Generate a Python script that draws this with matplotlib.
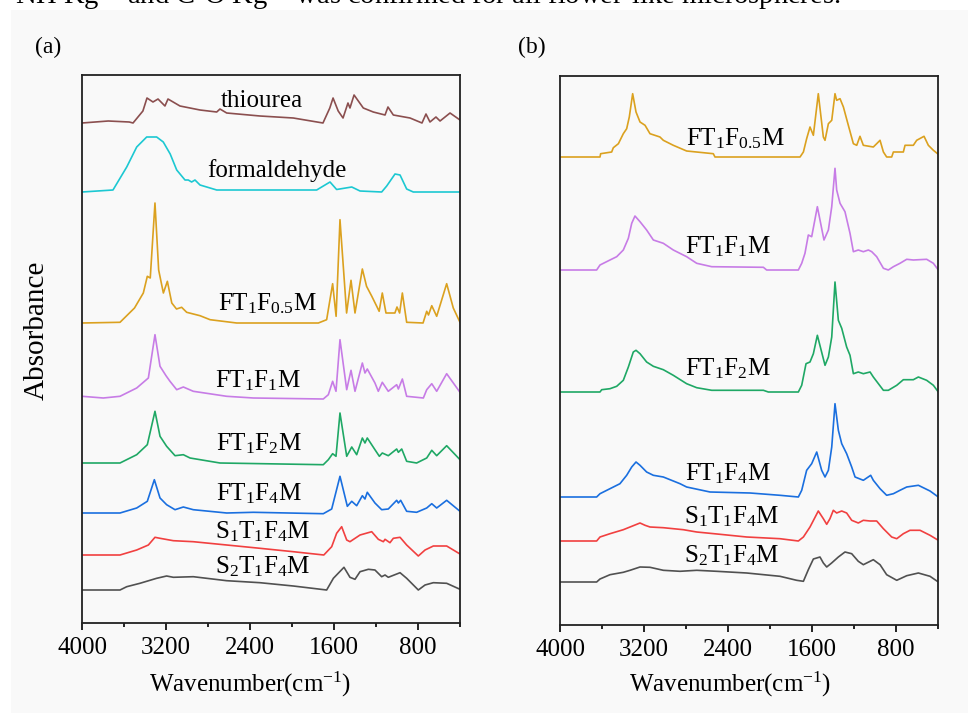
import matplotlib
matplotlib.use("Agg")
import matplotlib.pyplot as plt
from matplotlib.patches import Rectangle
import numpy as np

plt.rcParams['font.family'] = 'Liberation Serif'
plt.rcParams['mathtext.fontset'] = 'custom'
plt.rcParams['mathtext.rm'] = 'Liberation Serif'
plt.rcParams['mathtext.it'] = 'Liberation Serif:italic'

# ---- panel (a) spectra: wavenumber (cm-1) and absorbance above each baseline ----
a_thiourea_wn = [4000, 3750, 3550, 3514, 3420, 3381, 3324, 3276, 3210, 3181, 3067, 2876, 2717, 2686, 2622, 2305, 1988, 1705, 1640, 1609,
                 1560, 1514, 1467, 1448, 1409, 1321, 1226, 1114, 1086, 1035, 876, 762, 724, 686, 629, 590, 495, 400]
a_thiourea_ab = [0, 2, 1, 0, 12, 25, 21, 24, 17, 24, 17, 13, 11, 14, 10, 7, 5, 0, 15, 25,
                 12, 5, 20, 15, 28, 15, 11, 8, 16, 8, 5, 0, 9, 1, 6, 2, 10, 3]

a_formal_wn = [4000, 3705, 3574, 3479, 3384, 3289, 3226, 3160, 3098, 3019, 2988, 2956, 2924, 2876, 2717, 1765, 1638, 1575, 1431, 1352,
               1146, 1098, 1019, 971, 908, 845, 400]
a_formal_ab = [0, 2, 25, 45, 55, 55, 50, 38, 22, 12, 12, 10, 12, 7, 2, 2, 10, 2.5, 5, 1,
               0, 6, 18, 17, 3, 0, 0]

a_f05_wn = [4000, 3638, 3580, 3500, 3416, 3378, 3350, 3305, 3270, 3225, 3187, 3145, 3100, 3051, 3003, 2876, 2780, 2527, 1749, 1670,
            1613, 1580, 1543, 1480, 1438, 1400, 1330, 1290, 1240, 1193, 1170, 1140, 1105, 1020, 1000, 975, 949, 908, 752, 717,
            700, 669, 622, 527, 464, 400]
a_f05_ab = [0, 0.7, 6.7, 15, 30, 46.7, 45, 120, 53, 30, 41.7, 20, 14, 15.7, 10.7, 7.3, 3.3, 0, 0, 3.3,
            39.3, 6.7, 103.3, 10, 42.7, 10, 54, 36.7, 26.7, 16.7, 11.7, 30, 10, 10, 16, 10, 30, 0.7, 0, 11.7,
            8, 17.3, 6.7, 39.3, 15, 0.7]

a_f1_wn = [4000, 3797, 3638, 3479, 3368, 3305, 3257, 3200, 3162, 3098, 3035, 2940, 2622, 2368, 1702, 1654, 1613, 1581, 1543, 1479,
           1438, 1400, 1330, 1305, 1283, 1210, 1178, 1140, 1083, 1003, 987, 949, 908, 749, 717, 669, 622, 527, 400]
a_f1_ab = [1.7, 0, 1.7, 10, 20, 63.3, 31.7, 22.3, 16.7, 8.3, 11, 6.7, 1.7, 0, -1, 3.3, 16.7, 6.7, 58.3, 8.3,
           27.7, 6.7, 35, 25, 29, 15, 6.7, 15.7, 6.7, 13.3, 9, 19, 1.7, 0, 8.3, 14.3, 6.7, 24.3, 5.7]

a_f2_wn = [4000, 3638, 3479, 3378, 3305, 3257, 3194, 3114, 3035, 2971, 2686, 1702, 1654, 1613, 1581, 1543, 1479, 1431, 1384, 1330,
           1305, 1283, 1210, 1168, 1140, 1083, 1003, 987, 955, 908, 813, 717, 669, 622, 527, 400]
a_f2_ab = [0, 0, 8.3, 18.3, 51.7, 26.7, 16.7, 7.3, 8.3, 5, 0, -1.7, 3.3, 9.3, 6.7, 50, 6.7, 16, 8.3, 25,
           20, 25, 13.3, 6.7, 10, 7.3, 14, 10.7, 14, 1.7, 0, 5, 12.7, 7.3, 17.3, 3.3]

a_f4_wn = [4000, 3638, 3479, 3378, 3311, 3257, 3194, 3114, 3035, 2940, 2622, 2368, 1702, 1622, 1543, 1473, 1431, 1384, 1330, 1305,
           1283, 1210, 1146, 1083, 1003, 987, 965, 908, 813, 717, 669, 622, 527, 400]
a_f4_ab = [0, 0, 5, 11.7, 33.3, 15, 8.3, 3.3, 6, 3.3, 0, 0.7, -0.7, 4, 36.7, 6.7, 11.7, 7.3, 17.3, 14,
           20.7, 10, 3.3, 4, 12.7, 10, 12.7, 1.7, 0.7, 5, 9.3, 5, 12.7, 1.7]

a_s1_wn = [4000, 3638, 3479, 3368, 3305, 3257, 3130, 2940, 2622, 2305, 1988, 1697, 1622, 1575, 1527, 1479, 1448, 1352, 1241, 1178,
           1130, 1114, 1067, 1035, 971, 908, 797, 733, 654, 527, 400]
a_s1_ab = [0, 0, 5, 10, 17.7, 16.7, 14.3, 13.3, 10, 6.7, 3.3, 0, 8.3, 21.7, 28.3, 15, 13.3, 20, 23.3, 15.7,
           13.3, 15.7, 12.3, 16.7, 17.7, 10, -1, 5, 9, 9, 1]

a_s2_wn = [4000, 3638, 3574, 3448, 3289, 3194, 3130, 2940, 2813, 2622, 2305, 1988, 1670, 1606, 1505, 1448, 1400, 1352, 1273, 1210,
           1146, 1114, 1083, 971, 908, 797, 733, 654, 527, 400]
a_s2_ab = [0, 0, 3.3, 6.7, 11.7, 14, 12.7, 13.3, 11.7, 9.3, 7.3, 4, 0, 11.7, 22.7, 12.7, 10.7, 18.3, 20.7, 20,
           13.3, 15, 12.7, 17.3, 11.7, 0, 5, 7.3, 6.7, 0.7]

# ---- panel (b) spectra ----
b_f05_wn = [4000, 3619, 3613, 3508, 3492, 3444, 3397, 3365, 3340, 3308, 3276, 3238, 3190, 3143, 3048, 3016, 2921, 2794, 2540, 2524,
            1714, 1682, 1651, 1619, 1587, 1540, 1492, 1476, 1444, 1412, 1381, 1365, 1333, 1301, 1254, 1206, 1174, 1143, 1111, 1016,
            984, 952, 920, 889, 841, 825, 730, 714, 635, 603, 533, 492, 444, 397]
b_f05_ab = [0, 0, 3.3, 5, 9.3, 13.3, 23.3, 28.3, 40, 63.3, 45, 35, 31.7, 23.3, 20, 16.7, 11.7, 6, 3.3, 0,
            0, 5, 18.3, 30, 21.7, 63.3, 20, 16.7, 33.3, 36.7, 63.3, 56.7, 58.3, 50, 31.7, 13.3, 11.7, 20.7, 11.7, 10,
            13.3, 16.7, 5, 0, 0, 5, 5, 11.7, 11.7, 16.7, 20.7, 11.7, 6.7, 2.7]

b_f1_wn = [4000, 3651, 3619, 3524, 3460, 3397, 3349, 3317, 3286, 3238, 3175, 3111, 3016, 2921, 2794, 2698, 2555, 2063, 2032, 1730,
           1698, 1667, 1635, 1603, 1549, 1486, 1444, 1412, 1381, 1365, 1333, 1286, 1238, 1206, 1159, 1111, 1063, 1031, 984, 920,
           873, 825, 762, 698, 635, 508, 444, 397]
b_f1_ab = [0, 0, 5, 10, 13.3, 20, 31.7, 46.7, 54, 48.3, 40, 30, 26.7, 20, 13.3, 6.7, 3.3, 2.7, 0, 0,
           6.7, 16.7, 35, 33.3, 63.3, 30, 40, 63.3, 101.7, 80, 66.7, 58.3, 36.7, 18.3, 20, 18.3, 20, 18.3, 13.3, 1.7,
           0, 3.3, 6.7, 10.7, 10, 10.7, 6.7, 0]

b_f2_wn = [4000, 3619, 3603, 3524, 3460, 3397, 3349, 3302, 3276, 3238, 3175, 3111, 3016, 2921, 2794, 2698, 2555, 2063, 2016, 1730,
           1698, 1657, 1619, 1587, 1549, 1476, 1444, 1412, 1381, 1349, 1317, 1270, 1238, 1206, 1159, 1111, 1047, 1016, 920, 873,
           793, 730, 635, 587, 508, 444, 397]
b_f2_ab = [0, 0, 2.3, 3.3, 5.7, 11.7, 25, 40, 41.7, 38.3, 30, 25.7, 22.3, 16.7, 8.3, 4.3, 1.7, 1.7, 0, 0,
           6.7, 28.3, 30, 38.3, 56.7, 26.7, 35, 55, 110, 71.7, 63.7, 45, 36.7, 18.3, 20, 18.3, 20, 15, 1.7, 1.7,
           6.7, 12.3, 12.3, 15, 11.7, 6.7, 0]

b_f4_wn = [4000, 3651, 3619, 3524, 3429, 3365, 3317, 3276, 3238, 3175, 3111, 3016, 2857, 2794, 2571, 2190, 1905, 1730, 1698, 1651,
           1603, 1555, 1508, 1476, 1444, 1412, 1381, 1349, 1317, 1270, 1222, 1190, 1111, 1041, 1016, 952, 889, 825, 762, 698,
           587, 476, 397]
b_f4_ab = [0, 0, 3.3, 8.3, 13.3, 21.7, 30, 35, 31.7, 25, 21.7, 20, 13.3, 10, 5, 4, 1.7, 0, 6.7, 26.7,
           33.3, 45, 26.7, 20, 26.7, 50, 93.3, 66.7, 53.3, 43.3, 30, 20, 16.7, 21.7, 16.7, 8.3, 1.7, 3.3, 6.7, 10,
           11.7, 6, 0]

b_s1_wn = [4000, 3651, 3619, 3524, 3397, 3333, 3238, 3190, 3143, 3016, 2825, 2698, 2476, 2222, 1905, 1730, 1682, 1619, 1540, 1492,
           1460, 1429, 1397, 1365, 1317, 1270, 1222, 1159, 1111, 1047, 984, 920, 841, 793, 730, 667, 571, 476, 397]
b_s1_ab = [0, 0, 4, 7.3, 11.3, 14, 18, 15.7, 14, 13.3, 11.3, 9, 6.7, 4, 2.3, 0, 4, 14, 30, 22.3,
           16.7, 22.3, 30.7, 28, 30, 28, 20.7, 18, 20.7, 20, 20, 12.3, 4, 2.3, 7.3, 10.7, 10.7, 5.7, 0.7]

b_s2_wn = [4000, 3651, 3619, 3524, 3397, 3333, 3238, 3143, 3016, 2857, 2698, 2508, 2222, 1905, 1746, 1682, 1635, 1587, 1524, 1492,
           1460, 1413, 1349, 1286, 1222, 1159, 1111, 1079, 1016, 952, 889, 793, 698, 587, 476, 397]
b_s2_ab = [0, 0, 3, 7.3, 9.7, 11.7, 15, 14.7, 11.7, 10.7, 11.7, 10.7, 9, 5.7, 1.7, 0.7, 12.3, 23, 25, 19,
           15, 19, 25, 30, 28.3, 20.7, 17.3, 19, 22.3, 17.3, 7.3, 1.7, 6.3, 9, 5.7, 0]

a_names = ['thiourea', 'formaldehyde', r'FT$_1$F$_{0.5}$M', r'FT$_1$F$_1$M', r'FT$_1$F$_2$M',
           r'FT$_1$F$_4$M', r'S$_1$T$_1$F$_4$M', r'S$_2$T$_1$F$_4$M']
a_offsets = [500, 431, 300, 225, 160, 110, 68, 33]
b_names = a_names[2:]
b_offsets = [468, 355, 233, 128, 84, 43]

xticks_major = [4000, 3200, 2400, 1600, 800]
xticks_minor = [3600, 2800, 2000, 1200, 400]

# Origin-like colours
a_colors = ['#8B4F4F', '#1CC8D2', '#DBA11F', '#C77CE6', '#1FA865', '#1A6FDF', '#F14040', '#515151']
b_colors = a_colors[2:]

a_wn = [a_thiourea_wn, a_formal_wn, a_f05_wn, a_f1_wn, a_f2_wn, a_f4_wn, a_s1_wn, a_s2_wn]
a_ab = [a_thiourea_ab, a_formal_ab, a_f05_ab, a_f1_ab, a_f2_ab, a_f4_ab, a_s1_ab, a_s2_ab]
b_wn = [b_f05_wn, b_f1_wn, b_f2_wn, b_f4_wn, b_s1_wn, b_s2_wn]
b_ab = [b_f05_ab, b_f1_ab, b_f2_ab, b_f4_ab, b_s1_ab, b_s2_ab]

# label anchor (wavenumber, height) -- layout only
a_lab_pos = [(2286, 516), (2143, 446), (2229, 313), (2324, 236), (2314, 173), (2314, 123), (2276, 85), (2276, 50)]
b_lab_pos = [(2333, 480), (2400, 372), (2400, 250), (2400, 145), (2362, 102), (2362, 63)]

W, H = 968, 713
fig = plt.figure(figsize=(W / 100, H / 100), dpi=100)
fig.patches.append(Rectangle((11 / W, 0), 1 - 11 / W, 1 - 10 / H, transform=fig.transFigure,
                             facecolor='#f9f9f9', edgecolor='none', zorder=-10))

ax_a = fig.add_axes([82 / W, 1 - 623 / H, 378 / W, 548 / H])
ax_b = fig.add_axes([560 / W, 1 - 625 / H, 378 / W, 549 / H])


def style_axes(ax, ytop):
    ax.set_facecolor('none')
    ax.set_xlim(4000, 400)
    ax.set_ylim(0, ytop)
    ax.set_xticks(xticks_major)
    ax.set_xticks(xticks_minor, minor=True)
    ax.set_yticks([])
    ax.tick_params(axis='x', which='major', direction='out', length=5, width=1.2, labelsize=18, pad=5)
    ax.tick_params(axis='x', which='minor', direction='out', length=3, width=1.2)
    for s in ax.spines.values():
        s.set_linewidth(1.3)
        s.set_color('#222222')


for wn, ab, off, c in zip(a_wn, a_ab, a_offsets, a_colors):
    ax_a.plot(wn, np.array(ab) + off, color=c, lw=1.2)
for name, (x, y) in zip(a_names, a_lab_pos):
    ax_a.text(x, y, name, ha='center', va='baseline', fontsize=18)

for wn, ab, off, c in zip(b_wn, b_ab, b_offsets, b_colors):
    ax_b.plot(wn, np.array(ab) + off, color=c, lw=1.2)
for name, (x, y) in zip(b_names, b_lab_pos):
    ax_b.text(x, y, name, ha='center', va='baseline', fontsize=18)

style_axes(ax_a, 548)
style_axes(ax_b, 549)

fig.text(250 / W, 1 - 692 / H, r'Wavenumber(cm$^{-1}$)', ha='center', va='baseline', fontsize=18)
fig.text(730 / W, 1 - 692 / H, r'Wavenumber(cm$^{-1}$)', ha='center', va='baseline', fontsize=18)
fig.text(37 / W, 1 - 330 / H, 'Absorbance', rotation=90, ha='center', va='center', fontsize=21)
fig.text(48 / W, 1 - 47 / H, '(a)', ha='center', va='center', fontsize=17)
fig.text(532 / W, 1 - 47 / H, '(b)', ha='center', va='center', fontsize=17)

# cropped line of body text at the very top of the page (cut off in the source image too)
fig.text(840 / W, 1 - 4 / H, r'NH Kg$^{-1}$ and C-O Kg$^{-1}$ was confirmed for all flower-like microspheres.',
         ha='right', va='baseline', fontsize=20.5)

fig.savefig('out.png', dpi=100)
plt.close(fig)
